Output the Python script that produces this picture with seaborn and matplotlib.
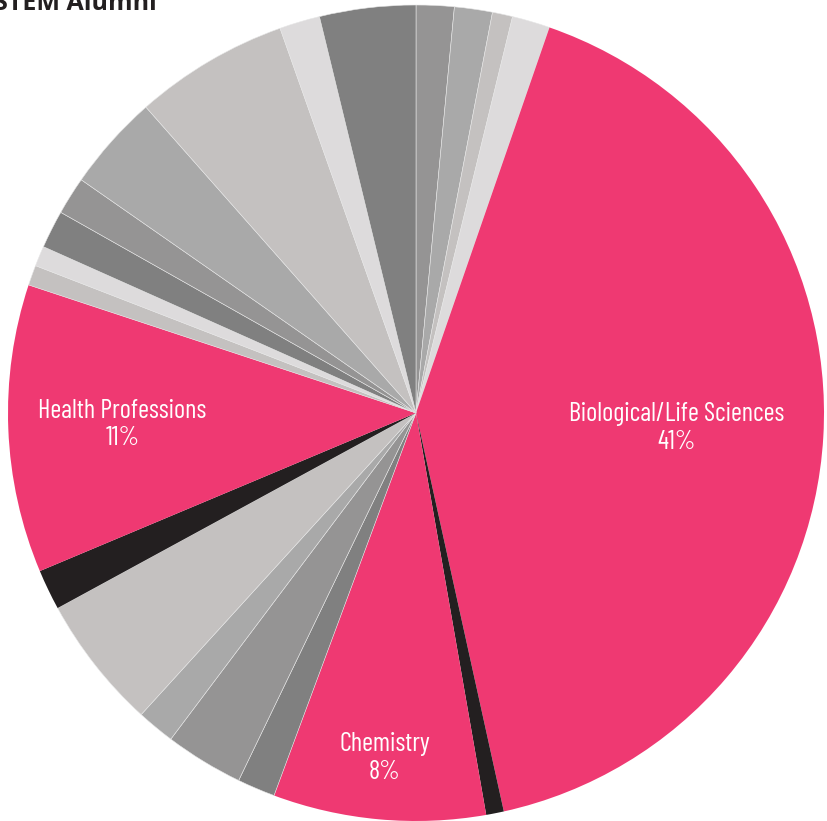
import numpy as np
import matplotlib
matplotlib.use("Agg")
import matplotlib.pyplot as plt
import seaborn as sns

# slices clockwise from 12 o'clock (percent of alumni)
majors = ['Other 1', 'Other 2', 'Other 3', 'Other 4', 'Biological/Life Sciences', 'Other 5',
          'Chemistry', 'Other 6', 'Other 7', 'Other 8', 'Other 9', 'Other 10', 'Health Professions',
          'Other 11', 'Other 12', 'Other 13', 'Other 14', 'Other 15', 'Other 16', 'Other 17', 'Other 18']
shares = [1.5, 1.5, 0.8, 1.5, 41.2, 0.7, 8.4, 1.5, 3.1, 1.5, 5.3, 1.6, 11.4,
          0.8, 0.8, 1.5, 1.5, 3.8, 6.1, 1.6, 3.8]
labeled = ['Biological/Life Sciences', 'Chemistry', 'Health Professions']
label_text = {'Biological/Life Sciences': 'Biological/Life Sciences\n41%',
              'Chemistry': 'Chemistry\n8%',
              'Health Professions': 'Health Professions\n11%'}
label_radius = {'Biological/Life Sciences': 0.64, 'Chemistry': 0.85, 'Health Professions': 0.72}

pink = '#ef3972'
black = '#231f20'
colors = ['#959494', '#a9a9a9', '#c4c1c0', '#dddbdc', pink, black, pink,
          '#808080', '#959494', '#a9a9a9', '#c4c1c0', black, pink,
          '#c4c1c0', '#dddbdc', '#808080', '#959494', '#a9a9a9', '#c4c1c0', '#dddbdc', '#808080']

sns.set_theme(style='white')
plt.rcParams['font.family'] = ['Barlow Condensed', 'DejaVu Sans']

fig = plt.figure(figsize=(8.28, 8.21), dpi=100)
ax = fig.add_axes([8 / 828, 0 / 821, 816 / 828, 816 / 821])

wedges, _ = ax.pie(shares, colors=colors, startangle=90, counterclock=False,
                   wedgeprops=dict(linewidth=0.4, edgecolor='#e6e6e6'))
for w, c in zip(wedges, colors):
    if c in (pink, black):
        w.set_linewidth(0)

for w, name in zip(wedges, majors):
    if name in labeled:
        mid = np.deg2rad((w.theta1 + w.theta2) / 2)
        r = label_radius[name]
        ax.text(r * np.cos(mid), r * np.sin(mid), label_text[name], color='white',
                fontsize=19, ha='center', va='center', linespacing=1.2)

ax.set_xlim(-1, 1)
ax.set_ylim(-1, 1)
ax.set_aspect('equal')
ax.axis('off')

fig.text(-0.007, 1 - 10 / 821, 'STEM Alumni', fontsize=18, fontweight='bold',
         family=['Open Sans', 'DejaVu Sans'], color='#231f20', ha='left', va='baseline')

fig.savefig('out.png', dpi=100, facecolor='white')
